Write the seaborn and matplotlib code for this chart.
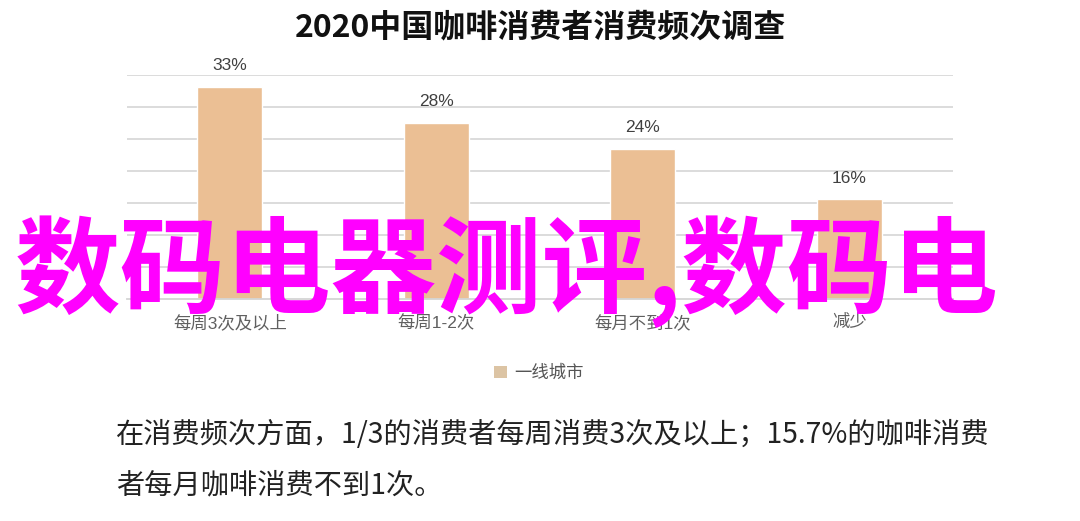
import matplotlib
matplotlib.use("Agg")
import matplotlib.pyplot as plt
import seaborn as sns
import pandas as pd

# ---- data ----
categories = ["每周3次及以上", "每周1-2次", "每月不到1次", "减少"]
values = [33.2, 27.5, 23.5, 15.6]
value_labels = ["33%", "28%", "24%", "16%"]
series_name = "一线城市"
title = "2020中国咖啡消费者消费频次调查"
caption_lines = ["在消费频次方面，1/3的消费者每周消费3次及以上；15.7%的咖啡消费",
                 "者每月咖啡消费不到1次。"]
overlay = "数码电器测评,数码电"

sns.set_theme(style="white")
plt.rcParams['font.family'] = ['Noto Sans CJK SC', 'DejaVu Sans']

df = pd.DataFrame({"cat": categories, "val": values, "series": series_name})

W, H = 1080, 521
fig = plt.figure(figsize=(W / 100, H / 100), dpi=100)
fig.patch.set_facecolor("white")
ax = fig.add_axes([126.7 / W, 1 - 299 / H, 826 / W, 224 / H])

bar_color = "#ebbf94"
sns.barplot(data=df, x="cat", y="val", hue="series", palette=[bar_color],
            width=0.315, dodge=False, ax=ax, legend=True, saturation=1)

ax.set_ylim(0, 35)
ax.set_xlim(-0.5, 3.5)
ax.set_yticks([5, 10, 15, 20, 25, 30, 35])
ax.set_yticklabels([])
ax.yaxis.grid(True, color="#d9d9d9", linewidth=1.3)
ax.set_axisbelow(True)
for s in ["top", "left", "right"]:
    ax.spines[s].set_visible(False)
ax.spines["bottom"].set_color("#d4d4d4")
ax.spines["bottom"].set_linewidth(1.3)
ax.tick_params(axis="both", length=0)
ax.tick_params(axis="x", pad=11, labelsize=12.5, labelcolor="#606060")
for t in ax.get_xticklabels():
    t.set_family(['Liberation Sans', 'Noto Sans CJK SC'])
ax.set_xlabel("")
ax.set_ylabel("")

for i, (v, lab) in enumerate(zip(values, value_labels)):
    ax.annotate(lab, (i, v), xytext=(0, 21), textcoords="offset pixels",
                ha="center", va="center", fontsize=12.5, color="#404040",
                family=['Liberation Sans', 'Noto Sans CJK SC'])

leg = ax.legend(loc="center", bbox_to_anchor=(539 / W, 1 - 373 / H),
                bbox_transform=fig.transFigure, frameon=False, fontsize=12.5,
                handlelength=0.75, handleheight=0.75, handletextpad=0.4)
for h in leg.legend_handles:
    h.set_facecolor("#dcc4a4")
    h.set_edgecolor("none")
for t in leg.get_texts():
    t.set_color("#555555")

fig.text(0.5, 1 - 27 / H, title, ha="center", va="center",
         fontsize=23, fontweight="bold", color="#111111")

fig.text(116 / W, 1 - 435 / H, caption_lines[0], ha="left", va="center",
         fontsize=20.3, color="#222222")
fig.text(116 / W, 1 - 485 / H, caption_lines[1], ha="left", va="center",
         fontsize=20.3, color="#222222")

fig.text(507 / W, 1 - 272 / H, overlay, ha="center", va="center",
         fontsize=76, fontweight="heavy", color="#ff00ff", zorder=10)

fig.savefig("out.png", dpi=100, facecolor="white")
